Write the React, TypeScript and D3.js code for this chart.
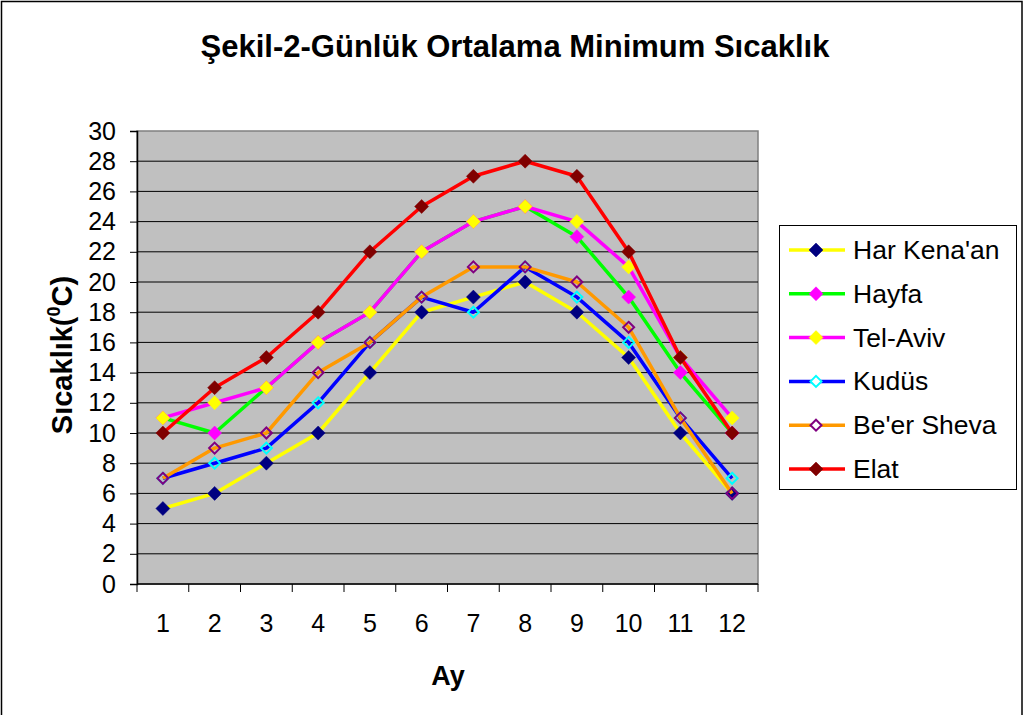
import { useEffect, useRef } from 'react';
import * as d3 from 'd3';

const months = ['1', '2', '3', '4', '5', '6', '7', '8', '9', '10', '11', '12'];
const yTicks = [0, 2, 4, 6, 8, 10, 12, 14, 16, 18, 20, 22, 24, 26, 28, 30];

const harKenaan = [5, 6, 8, 10, 14, 18, 19, 20, 18, 15, 10, 6];
const hayfa = [11, 10, 13, 16, 18, 22, 24, 25, 23, 19, 14, 10];
const telAviv = [11, 12, 13, 16, 18, 22, 24, 25, 24, 21, 15, 11];
const kudus = [7, 8, 9, 12, 16, 19, 18, 21, 19, 16, 11, 7];
const beerSheva = [7, 9, 10, 14, 16, 19, 21, 21, 20, 17, 11, 6];
const elat = [10, 13, 15, 18, 22, 25, 27, 28, 27, 22, 15, 10];

const seriesNames = ["Har Kena'an", 'Hayfa', 'Tel-Aviv', 'Kudüs', "Be'er Sheva", 'Elat'];

// line colour, marker fill, marker stroke
const styles = [
  { line: '#FFFF00', fill: '#000080', stroke: '#000080' },
  { line: '#00FF00', fill: '#FF00FF', stroke: '#FF00FF' },
  { line: '#FF00FF', fill: '#FFFF00', stroke: '#FFFF00' },
  { line: '#0000FF', fill: 'none', stroke: '#00FFFF' },
  { line: '#FF9900', fill: 'none', stroke: '#800080' },
  { line: '#FF0000', fill: '#800000', stroke: '#800000' },
];

function App() {
  const ref = useRef<HTMLDivElement>(null);

  useEffect(() => {
    document.body.style.margin = '0';
    const root = d3.select(ref.current);
    root.selectAll('*').remove();
    const W = 1027, H = 715;
    const svg = root.append('svg').attr('width', W).attr('height', H)
      .style('display', 'block')
      .style('font-family', 'Arial, "Liberation Sans", sans-serif');

    svg.append('rect').attr('x', 1.5).attr('y', 1.5).attr('width', 1020.5).attr('height', H + 10)
      .attr('fill', 'white').attr('stroke', '#000').attr('stroke-width', 1.5);

    const left = 137, right = 758, top = 131, bottom = 584;
    const x = d3.scaleBand().domain(months).range([left, right]);
    const y = d3.scaleLinear().domain([0, 30]).range([bottom, top]);

    svg.append('rect').attr('x', left).attr('y', top).attr('width', right - left).attr('height', bottom - top)
      .attr('fill', '#C0C0C0').attr('stroke', '#808080').attr('stroke-width', 1.5);

    svg.append('g').selectAll('line').data(yTicks.filter(d => d > 0 && d < 30)).enter().append('line')
      .attr('x1', left).attr('x2', right).attr('y1', d => y(d)).attr('y2', d => y(d))
      .attr('stroke', '#000').attr('stroke-width', 1);

    // y axis
    const yAxis = svg.append('g').attr('transform', `translate(${left},0)`)
      .call(d3.axisLeft(y).tickValues(yTicks).tickSize(7).tickPadding(14));
    yAxis.select('.domain').attr('stroke', '#000').attr('stroke-width', 1.5);
    yAxis.selectAll('.tick line').attr('stroke', '#000');
    yAxis.selectAll('text').attr('font-size', 25).attr('fill', '#000')
      .attr('font-family', 'Arial, "Liberation Sans", sans-serif');

    // x axis with ticks at category boundaries
    const xg = svg.append('g');
    xg.append('line').attr('x1', left).attr('x2', right).attr('y1', bottom).attr('y2', bottom)
      .attr('stroke', '#000').attr('stroke-width', 1.5);
    const bounds = months.map(m => x(m) as number).concat([right]);
    xg.selectAll('line.t').data(bounds).enter().append('line').attr('class', 't')
      .attr('x1', d => d).attr('x2', d => d).attr('y1', bottom).attr('y2', bottom + 8)
      .attr('stroke', '#000');
    xg.selectAll('text').data(months).enter().append('text')
      .attr('x', d => (x(d) as number) + x.bandwidth() / 2).attr('y', 632)
      .attr('text-anchor', 'middle').attr('font-size', 25).text(d => d);

    const data = [harKenaan, hayfa, telAviv, kudus, beerSheva, elat];
    const line = d3.line<number>()
      .x((_, i) => (x(months[i]) as number) + x.bandwidth() / 2)
      .y(d => y(d));
    const diamond = (cx: number, cy: number, r: number) =>
      `M${cx},${cy - r}L${cx + r},${cy}L${cx},${cy + r}L${cx - r},${cy}Z`;

    data.forEach((vals, si) => {
      const st = styles[si];
      svg.append('path').datum(vals).attr('d', line).attr('fill', 'none')
        .attr('stroke', st.line).attr('stroke-width', 3.5).attr('stroke-linejoin', 'round');
      svg.append('g').selectAll('path').data(vals).enter().append('path')
        .attr('d', (d, i) => diamond((x(months[i]) as number) + x.bandwidth() / 2, y(d), st.fill === 'none' ? 5.5 : 7))
        .attr('fill', st.fill).attr('stroke', st.stroke).attr('stroke-width', st.fill === 'none' ? 2 : 0.5);
    });

    // legend
    const lg = svg.append('g');
    lg.append('rect').attr('x', 779.5).attr('y', 225.5).attr('width', 237).attr('height', 264)
      .attr('fill', 'white').attr('stroke', '#000').attr('stroke-width', 1);
    seriesNames.forEach((name, i) => {
      const st = styles[i];
      const cy = 250 + i * 43.8;
      lg.append('line').attr('x1', 789).attr('x2', 845).attr('y1', cy).attr('y2', cy)
        .attr('stroke', st.line).attr('stroke-width', 3.5);
      lg.append('path').attr('d', diamond(816, cy, st.fill === 'none' ? 5.5 : 7))
        .attr('fill', st.fill === 'none' ? 'white' : st.fill).attr('stroke', st.stroke)
        .attr('stroke-width', st.fill === 'none' ? 2 : 0.5);
      lg.append('text').attr('x', 853).attr('y', cy + 9).attr('font-size', 26.5).text(name);
    });

    // titles
    svg.append('text').attr('x', 515).attr('y', 57).attr('text-anchor', 'middle')
      .attr('font-size', 31).attr('font-weight', 'bold').text('Şekil-2-Günlük Ortalama Minimum Sıcaklık');
    svg.append('text').attr('x', 448).attr('y', 685).attr('text-anchor', 'middle')
      .attr('font-size', 27).attr('font-weight', 'bold').text('Ay');
    const yt = svg.append('text').attr('transform', 'translate(72,355) rotate(-90)')
      .attr('text-anchor', 'middle').attr('font-size', 29).attr('font-weight', 'bold');
    yt.append('tspan').text('Sıcaklık(');
    yt.append('tspan').attr('font-size', 18).attr('dy', -12).text('0');
    yt.append('tspan').attr('dy', 12).text('C)');
  }, []);

  return <div ref={ref}></div>;
}

export default App;
